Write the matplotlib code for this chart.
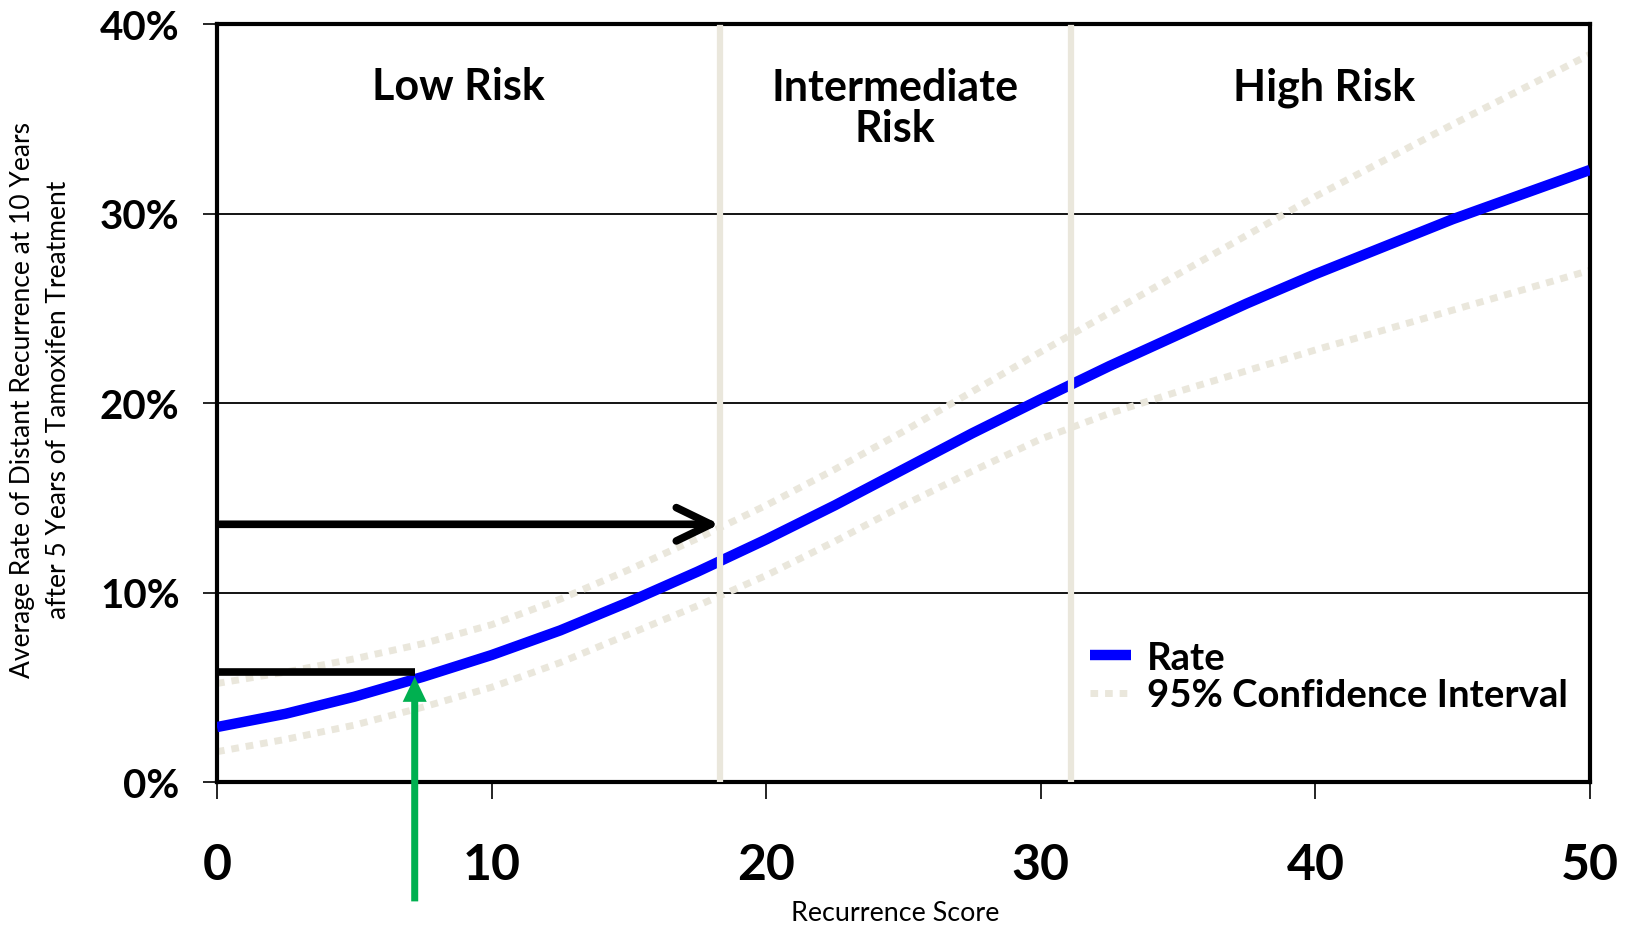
import matplotlib
matplotlib.use("Agg")
import matplotlib.pyplot as plt
from matplotlib.ticker import FuncFormatter

# values (recurrence score vs. rate in %)
score = [0, 2.5, 5, 7.5, 10, 12.5, 15, 17.5, 20, 22.5, 25,
         27.5, 30, 32.5, 35, 37.5, 40, 42.5, 45, 47.5, 50]
rate = [2.9, 3.6, 4.5, 5.55, 6.7, 8.0, 9.5, 11.1, 12.8, 14.6, 16.5,
        18.4, 20.2, 21.95, 23.6, 25.25, 26.8, 28.25, 29.7, 31.0, 32.3]
ci_upper = [5.2, 5.8, 6.5, 7.3, 8.3, 9.65, 11.2, 12.85, 14.6, 16.5, 18.5,
            20.6, 22.7, 24.75, 26.8, 28.85, 30.9, 32.8, 34.7, 36.55, 38.4]
ci_lower = [1.6, 2.25, 3.0, 3.95, 5.0, 6.3, 7.8, 9.3, 10.9, 12.7, 14.6,
            16.4, 18.1, 19.45, 20.6, 21.7, 22.8, 23.85, 24.9, 25.95, 27.0]

risk_cutoffs = [18.3, 31.1]
risk_labels = ["Low Risk", "Intermediate\nRisk", "High Risk"]
risk_label_x = [8.8, 24.7, 40.3]
risk_label_y = [36.04, 33.83, 36.04]  # baseline of the last line

x_ticks = [0, 10, 20, 30, 40, 50]
y_ticks = [0, 10, 20, 30, 40]

# example patient marked with arrows
patient_score = 7.2
patient_rate = 5.8
low_risk_limit_rate = 13.6

BEIGE = "#EAE7DC"
BLUE = "#0000FF"
GREEN = "#00B050"
W, H = 1628, 928

fig = plt.figure(figsize=(W / 100, H / 100), dpi=100)
ax = fig.add_axes([217 / W, 1 - 783 / H, (1590 - 217) / W, (783 - 25) / H])
ax.set_xlim(0, 50)
ax.set_ylim(0, 40)

for y in y_ticks[1:-1]:
    ax.axhline(y, color="black", lw=1.3, zorder=1)

ax.plot(score, rate, color=BLUE, lw=7.5, solid_capstyle="butt",
        solid_joinstyle="round", zorder=3, label="Rate")
ax.plot(score, ci_upper, color=BEIGE, lw=5, linestyle=(0, (1.1, 1.0)),
        dash_capstyle="butt", zorder=2, label="95% Confidence Interval")
ax.plot(score, ci_lower, color=BEIGE, lw=5, linestyle=(0, (1.1, 1.0)),
        dash_capstyle="butt", zorder=2)

for c in risk_cutoffs:
    ax.axvline(c, ymax=0.995, color=BEIGE, lw=4.5, zorder=4)

for x, y, lab in zip(risk_label_x, risk_label_y, risk_labels):
    ax.text(x, y, lab, ha="center", va="baseline", fontsize=31,
            fontweight="bold", family="Lato", linespacing=1.04)

# black arrow / line to the y axis, green arrow up from the score
ax.annotate("", xy=(18.3, low_risk_limit_rate), xytext=(0.1, low_risk_limit_rate),
            arrowprops=dict(arrowstyle="->,head_length=0.62,head_width=0.3",
                            lw=5.5, color="black", mutation_scale=40,
                            capstyle="round", joinstyle="round",
                            shrinkA=0, shrinkB=0), zorder=5)
ax.plot([0, patient_score], [patient_rate, patient_rate], color="black", lw=5.5,
        solid_capstyle="butt", zorder=5)
ax.annotate("", xy=(patient_score, 5.55), xytext=(patient_score, -6.3),
            arrowprops=dict(arrowstyle="simple,head_length=0.5,head_width=0.48,tail_width=0.14",
                            mutation_scale=36, color=GREEN, lw=0,
                            shrinkA=0, shrinkB=0),
            annotation_clip=False, zorder=6)

for s in ax.spines.values():
    s.set_linewidth(3)
    s.set_color("black")

ax.set_xticks(x_ticks)
ax.set_yticks(y_ticks)
ax.yaxis.set_major_formatter(FuncFormatter(lambda v, p: f"{int(v)}%"))
ax.tick_params(axis="x", length=12, width=1.2, pad=31, labelsize=36)
ax.tick_params(axis="y", length=10, width=1.2, pad=17, labelsize=29)
for lab in ax.get_xticklabels() + ax.get_yticklabels():
    lab.set_fontweight("bold")
    lab.set_family("Lato")

leg = ax.legend(loc="center left", bbox_to_anchor=(1090 / W, 1 - 677.5 / H),
                bbox_transform=fig.transFigure, frameon=False, borderpad=0,
                borderaxespad=0, handlelength=1.08, handletextpad=0.42,
                labelspacing=0.1, prop=dict(family="Lato", weight="bold", size=27.5))

fig.text(41 / W, 1 - 400 / H,
         "Average Rate of Distant Recurrence at 10 Years\nafter 5 Years of Tamoxifen Treatment",
         rotation=90, ha="center", va="center", fontsize=19, family="Lato",
         linespacing=1.55, multialignment="center")
fig.text(895 / W, 1 - 914 / H, "Recurrence Score", ha="center", va="center",
         fontsize=19.4, family="Lato")

fig.savefig("out.png", dpi=100)
